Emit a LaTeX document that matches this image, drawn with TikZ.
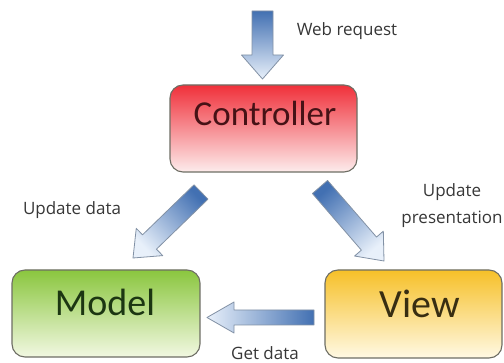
\documentclass[tikz,border=0pt]{standalone}
\usepackage{fontspec}
\setmainfont{Carlito}
\newfontfamily\smallfont{Open Sans}
\usetikzlibrary{calc}

\definecolor{arrowdark}{RGB}{66,112,178}
\definecolor{arrowlight}{RGB}{232,240,250}
\definecolor{arrowedge}{RGB}{130,145,165}
\definecolor{ctrltop}{RGB}{240,48,58}
\definecolor{ctrlbot}{RGB}{253,236,236}
\definecolor{ctrltext}{RGB}{70,18,22}
\definecolor{modeltop}{RGB}{138,198,62}
\definecolor{modelbot}{RGB}{242,248,226}
\definecolor{modeltext}{RGB}{28,54,18}
\definecolor{viewtop}{RGB}{246,192,40}
\definecolor{viewbot}{RGB}{255,249,228}
\definecolor{viewtext}{RGB}{56,46,18}
\definecolor{boxedge}{RGB}{110,110,100}
\definecolor{labelgray}{RGB}{55,55,55}

% block arrow: tail, tip, shaft half width, head half width, head length, shading angle
\newcommand{\blockarrow}[6]{%
  \coordinate (ba-h) at ($(#2)!#5!(#1)$);
  \path[arrowbody, shading angle=#6]
    ($(#1)!#3!90:(#2)$) -- ($(ba-h)!#3!90:(#2)$) -- ($(ba-h)!#4!90:(#2)$)
    -- (#2) -- ($(ba-h)!#4!-90:(#2)$) -- ($(ba-h)!#3!-90:(#2)$)
    -- ($(#1)!#3!-90:(#2)$) -- cycle;
}

\begin{document}
\begin{tikzpicture}[x=1pt, y=-1pt,
  mvcbox/.style={draw=boxedge, line width=1.1pt, rounded corners=13pt, inner sep=0pt},
  bigtext/.style={inner sep=0pt, font=\fontsize{38}{40}\selectfont},
  smalllabel/.style={inner sep=0pt, text=labelgray, font=\smallfont\fontsize{17}{27}\selectfont, align=center},
  arrowbody/.style={draw=arrowedge, line width=0.8pt, line join=round, top color=arrowdark, bottom color=arrowlight}]

  \fill[white] (0,0) rectangle (504,363);
  \useasboundingbox (0,0) rectangle (504,363);

  % the three boxes
  \node[mvcbox, top color=ctrltop, bottom color=ctrlbot, minimum width=187pt, minimum height=87pt]
    (controller) at (263.5,128.5) {};
  \node[mvcbox, top color=modeltop, bottom color=modelbot, minimum width=188pt, minimum height=87pt]
    (model) at (106,313.5) {};
  \node[mvcbox, top color=viewtop, bottom color=viewbot, minimum width=177pt, minimum height=88pt]
    (view) at (413.5,314) {};

  \node[bigtext, text=ctrltext, font=\fontsize{35}{38}\selectfont] (ctrllabel) at (265,113) {Controller};
  \node[bigtext, text=modeltext] (modellabel) at (105,302) {Model};
  \node[bigtext, text=viewtext, font=\fontsize{40}{42}\selectfont] (viewlabel) at (420,304) {View};

  % arrow end points
  \coordinate (webtail) at (262.5,11);
  \coordinate (webtip) at (262.5,79);
  \coordinate (udtail) at (201,192);
  \coordinate (udtip) at (133,258);
  \coordinate (uptail) at (320,187);
  \coordinate (uptip) at (384,261);
  \coordinate (gdtail) at (314,317.5);
  \coordinate (gdtip) at (207,317.5);

  \blockarrow{webtail}{webtip}{10.5pt}{21pt}{24pt}{0}
  \blockarrow{udtail}{udtip}{10pt}{19pt}{23pt}{-45.9}
  \blockarrow{uptail}{uptip}{10pt}{19pt}{23pt}{40.9}
  \blockarrow{gdtail}{gdtip}{7.5pt}{15.5pt}{27pt}{270}

  % arrow captions
  \node[smalllabel] (weblabel) at (347,31) {Web request};
  \node[smalllabel] (udlabel) at (72,210) {Update data};
  \node[smalllabel] (uplabel) at (452,206) {Update\\presentation};
  \node[smalllabel] (gdlabel) at (265,353) {Get data};
\end{tikzpicture}
\end{document}
